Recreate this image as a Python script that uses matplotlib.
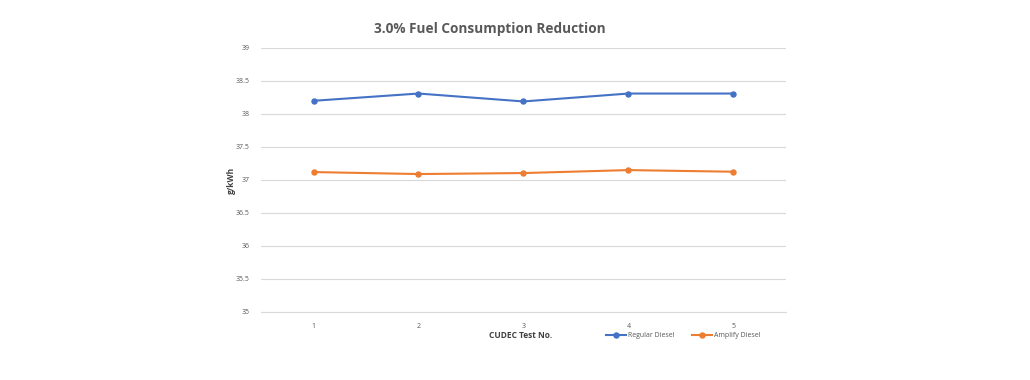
import matplotlib
matplotlib.use("Agg")
import matplotlib.pyplot as plt

tests = [1, 2, 3, 4, 5]
regular = [38.20, 38.31, 38.19, 38.31, 38.31]
amplify = [37.12, 37.09, 37.105, 37.15, 37.125]
yticks = [35, 35.5, 36, 36.5, 37, 37.5, 38, 38.5, 39]
ytick_labels = ["35", "35.5", "36", "36.5", "37", "37.5", "38", "38.5", "39"]

plt.rcParams['font.family'] = ['Open Sans', 'DejaVu Sans']

fig = plt.figure(figsize=(10.3, 3.8), dpi=100)
ax = fig.add_axes([0.2534, 0.179, 0.5097, 0.6947])

ax.plot(tests, regular, color='#4472C4', lw=1.5, marker='o', ms=3.6, label='Regular Diesel')
ax.plot(tests, amplify, color='#ED7D31', lw=1.5, marker='o', ms=3.6, label='Amplify Diesel')

ax.set_xlim(0.5, 5.5)
ax.set_ylim(35, 39)
ax.set_yticks(yticks)
ax.set_yticklabels(ytick_labels)
ax.set_xticks(tests)
ax.grid(axis='y', color='#D9D9D9', lw=0.8)
ax.set_axisbelow(True)
for s in ['top', 'right', 'left']:
    ax.spines[s].set_visible(False)
ax.spines['bottom'].set_color('#D9D9D9')
ax.spines['bottom'].set_linewidth(0.8)
ax.tick_params(axis='both', length=0, labelsize=5, labelcolor='#595959', pad=8)

ax.set_ylabel('g/kWh', fontsize=6, fontweight='bold', color='#404040', labelpad=0)
fig.text(0.505, 0.116, 'CUDEC Test No.', ha='center', va='center', fontsize=6,
         fontweight='bold', color='#404040')
fig.text(0.476, 0.925, '3.0% Fuel Consumption Reduction', ha='center', va='center',
         fontsize=9.8, fontweight='bold', color='#595959')

leg = fig.legend(loc='center', bbox_to_anchor=(0.663, 0.116), ncol=2, frameon=False,
                 fontsize=5, handlelength=3, columnspacing=2.5, handletextpad=0.2)
for t in leg.get_texts():
    t.set_color('#595959')

fig.savefig('out.png', dpi=100)
